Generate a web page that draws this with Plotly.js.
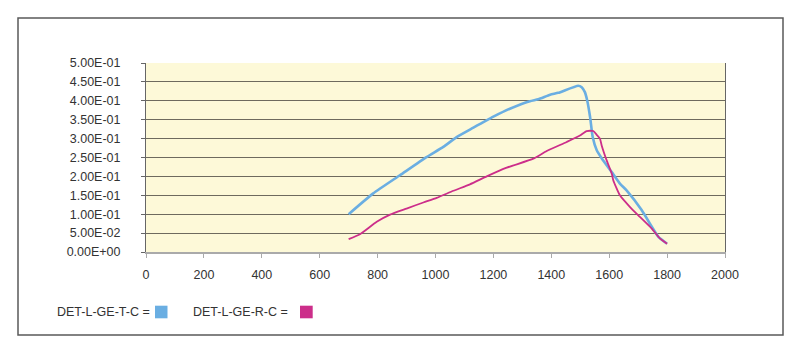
<!DOCTYPE html>
<html>
<head>
<meta charset="utf-8">
<script src="https://cdn.plot.ly/plotly-3.0.1.min.js"></script>
<style>html,body{margin:0;padding:0;background:#fff;}#chart{width:800px;height:357px;}</style>
</head>
<body>
<div id="chart"></div>
<script>
// Series: DET-L-GE-T-C (blue)
const blueX = [700, 785, 877, 969, 1027, 1073, 1131, 1200, 1257, 1326, 1355, 1396, 1424, 1493, 1505, 1516, 1524, 1534, 1543, 1557, 1574, 1608, 1637, 1660, 1712, 1747, 1770, 1800];
const blueY = [0.100, 0.155, 0.203, 0.251, 0.278, 0.304, 0.329, 0.358, 0.379, 0.399, 0.404, 0.416, 0.421, 0.440, 0.436, 0.423, 0.401, 0.357, 0.304, 0.269, 0.248, 0.212, 0.181, 0.163, 0.111, 0.067, 0.040, 0.022];
// Series: DET-L-GE-R-C (magenta)
const magX = [700, 739, 797, 843, 900, 958, 1004, 1062, 1119, 1177, 1246, 1338, 1384, 1453, 1499, 1522, 1545, 1557, 1568, 1574, 1591, 1609, 1614, 1637, 1672, 1706, 1747, 1775, 1800];
const magY = [0.034, 0.047, 0.080, 0.099, 0.115, 0.131, 0.143, 0.162, 0.179, 0.200, 0.223, 0.247, 0.267, 0.291, 0.308, 0.320, 0.320, 0.310, 0.300, 0.282, 0.243, 0.207, 0.190, 0.150, 0.119, 0.093, 0.062, 0.036, 0.022];
const seriesNames = ["DET-L-GE-T-C =", "DET-L-GE-R-C ="];
const yTickVals = [0, 0.05, 0.1, 0.15, 0.2, 0.25, 0.3, 0.35, 0.4, 0.45, 0.5];
const yTickText = ["0.00E+00", "5.00E-02", "1.00E-01", "1.50E-01", "2.00E-01", "2.50E-01", "3.00E-01", "3.50E-01", "4.00E-01", "4.50E-01", "5.00E-01"];
const xTickVals = [0, 200, 400, 600, 800, 1000, 1200, 1400, 1600, 1800, 2000];

const BLUE = "#6AAEE2", MAG = "#CC2E8A";
const FONT = "'Liberation Sans', Arial, sans-serif";
const FS = 12.5;

// pixel -> paper helpers (plot area 146..725 x, 63..252 y)
const L = 146, R = 725, T = 63, B = 252;
const px = v => (v - L) / (R - L);
const py = v => (B - v) / (B - T);

const traces = [
  {x: blueX, y: blueY, name: seriesNames[0], mode: "lines", line: {color: BLUE, width: 2.6, shape: "spline", smoothing: 0.5}, showlegend: false, hoverinfo: "skip"},
  {x: magX, y: magY, name: seriesNames[1], mode: "lines", line: {color: MAG, width: 1.8, shape: "spline", smoothing: 0.5}, showlegend: false, hoverinfo: "skip"}
];

const layout = {
  width: 800, height: 357,
  margin: {l: L, r: 800 - R, t: T, b: 357 - B},
  paper_bgcolor: "#ffffff",
  plot_bgcolor: "#FDF9D8",
  font: {family: FONT, size: FS, color: "#333333"},
  xaxis: {
    range: [0, 2000], tickvals: xTickVals, ticktext: xTickVals.map(String),
    showgrid: false, zeroline: false,
    showline: true, linecolor: "#AAAAAA", linewidth: 2,
    ticks: "outside", ticklen: 4, tickcolor: "#AAAAAA", tickwidth: 1,
    ticklabelstandoff: 6,
    tickfont: {family: FONT, size: FS, color: "#333333"}
  },
  yaxis: {
    range: [0, 0.5], tickvals: yTickVals, ticktext: yTickText,
    showgrid: true, gridcolor: "#6E6A5E", gridwidth: 1,
    zeroline: false,
    showline: true, mirror: true, linecolor: "#666666", linewidth: 1,
    ticks: "outside", ticklen: 4, tickcolor: "#666666", tickwidth: 1,
    ticklabelstandoff: 18,
    tickfont: {family: FONT, size: FS, color: "#333333"}
  },
  shapes: [
    {type: "rect", xref: "paper", yref: "paper", x0: px(18), x1: px(783), y0: py(335), y1: py(18), line: {color: "#5A5A5A", width: 1.5}, fillcolor: "rgba(0,0,0,0)", layer: "below"},
    {type: "rect", xref: "paper", yref: "paper", x0: px(155), x1: px(167.5), y0: py(318.3), y1: py(305.7), line: {width: 0}, fillcolor: BLUE},
    {type: "rect", xref: "paper", yref: "paper", x0: px(300), x1: px(312.7), y0: py(318.3), y1: py(305.7), line: {width: 0}, fillcolor: MAG}
  ],
  annotations: [
    {xref: "paper", yref: "paper", x: px(152), y: py(312), xanchor: "right", yanchor: "middle", text: seriesNames[0], showarrow: false, font: {family: FONT, size: FS, color: "#333333"}},
    {xref: "paper", yref: "paper", x: px(290), y: py(312), xanchor: "right", yanchor: "middle", text: seriesNames[1], showarrow: false, font: {family: FONT, size: FS, color: "#333333"}}
  ]
};

Plotly.newPlot("chart", traces, layout, {staticPlot: true, displayModeBar: false});
</script>
</body>
</html>
